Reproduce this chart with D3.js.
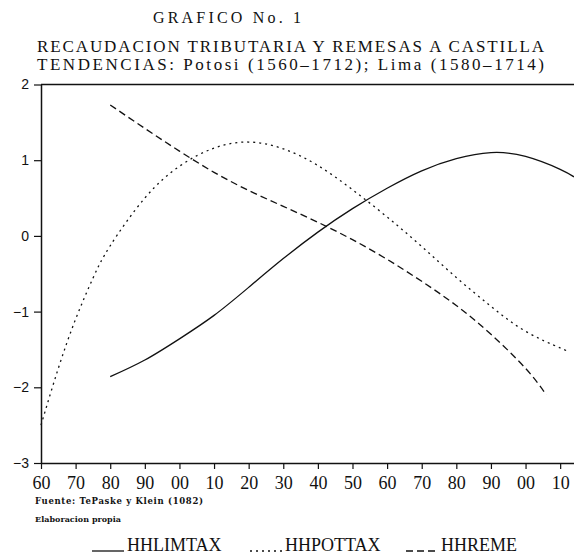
<!DOCTYPE html>
<html>
<head>
<meta charset="utf-8">
<script src="https://cdn.jsdelivr.net/npm/d3@7"></script>
<style>
  body { margin: 0; background: #fff; }
  svg { display: block; }
</style>
</head>
<body>
<svg width="574" height="558"></svg>
<script>
// Lima tax trend (solid)
var limYears  = [1580, 1590, 1600, 1610, 1620, 1630, 1640, 1650, 1660, 1670, 1680, 1690, 1700, 1710, 1714];
var limValues = [-1.86, -1.64, -1.36, -1.05, -0.68, -0.30, 0.05, 0.36, 0.63, 0.86, 1.02, 1.10, 1.05, 0.88, 0.78];

// Potosi tax trend (dotted)
var potYears  = [1560, 1565, 1570, 1575, 1580, 1590, 1600, 1610, 1620, 1630, 1640, 1650, 1660, 1670, 1680, 1690, 1700, 1710, 1712];
var potValues = [-2.50, -1.75, -1.10, -0.56, -0.13, 0.50, 0.92, 1.16, 1.24, 1.15, 0.93, 0.61, 0.25, -0.14, -0.55, -0.93, -1.26, -1.48, -1.52];

// remittances to Castile (dashed)
var remYears  = [1580, 1590, 1600, 1610, 1620, 1630, 1640, 1650, 1660, 1670, 1680, 1690, 1700, 1706];
var remValues = [1.73, 1.42, 1.12, 0.84, 0.60, 0.39, 0.18, -0.05, -0.31, -0.60, -0.92, -1.30, -1.75, -2.10];

var yTicks = [-3, -2, -1, 0, 1, 2];
var xTicks = [1560, 1570, 1580, 1590, 1600, 1610, 1620, 1630, 1640, 1650, 1660, 1670, 1680, 1690, 1700, 1710];

var svg = d3.select("svg");
var ink = "#111";

var x = d3.scaleLinear().domain([1560, 1714]).range([41, 574]);
var y = d3.scaleLinear().domain([-3, 2]).range([463, 84.5]);

// titles
svg.append("text").text("GRAFICO No. 1")
  .attr("x", 153).attr("y", 23)
  .attr("font-family", "Liberation Serif").attr("font-size", 16)
  .attr("textLength", 148).attr("lengthAdjust", "spacing")
  .attr("fill", ink);
svg.append("text").text("RECAUDACION TRIBUTARIA Y REMESAS A CASTILLA")
  .attr("x", 37).attr("y", 52)
  .attr("font-family", "Liberation Serif").attr("font-size", 17)
  .attr("textLength", 507).attr("lengthAdjust", "spacing")
  .attr("fill", ink);
svg.append("text").text("TENDENCIAS: Potosi (1560\u20131712); Lima (1580\u20131714)")
  .attr("x", 37).attr("y", 70)
  .attr("font-family", "Liberation Serif").attr("font-size", 17)
  .attr("textLength", 507).attr("lengthAdjust", "spacing")
  .attr("fill", ink);

// frame top
svg.append("line")
  .attr("x1", x(1560)).attr("x2", 574)
  .attr("y1", y(2)).attr("y2", y(2))
  .attr("stroke", ink).attr("stroke-width", 1.5);

// axes
var yAxis = svg.append("g")
  .attr("transform", "translate(" + x(1560) + ",0)")
  .call(d3.axisLeft(y).tickValues(yTicks).tickSize(7).tickSizeOuter(0)
    .tickFormat(function(d) { return d < 0 ? "\u2212" + Math.abs(d) : d; }));
yAxis.selectAll("text").attr("font-family", "Liberation Sans").attr("font-size", 14)
  .attr("fill", ink).attr("dx", "-2");

var xAxis = svg.append("g")
  .attr("transform", "translate(0," + y(-3) + ")")
  .call(d3.axisBottom(x).tickValues(xTicks).tickSize(6).tickSizeOuter(0)
    .tickFormat(function(d) { return ("0" + (d % 100)).slice(-2); }));
xAxis.selectAll("text").attr("font-family", "Liberation Serif").attr("font-size", 18)
  .attr("fill", ink).attr("dy", "0.95em");

svg.selectAll(".domain").attr("stroke", ink).attr("stroke-width", 1.5);
svg.selectAll(".tick line").attr("stroke", ink).attr("stroke-width", 1.2);

// curves
var line = d3.line()
  .x(function(d) { return x(d[0]); })
  .y(function(d) { return y(d[1]); })
  .curve(d3.curveNatural);

function series(years, values, dash) {
  svg.append("path")
    .datum(d3.zip(years, values))
    .attr("d", line)
    .attr("fill", "none")
    .attr("stroke", ink)
    .attr("stroke-width", 1.3)
    .attr("stroke-dasharray", dash);
}
series(limYears, limValues, null);
series(potYears, potValues, "2,4");
series(remYears, remValues, "7,4");

// source notes
svg.append("text").text("Fuente: TePaske y Klein (1082)")
  .attr("x", 35).attr("y", 504)
  .attr("font-family", "DejaVu Serif").attr("font-weight", "bold").attr("font-size", 8.5)
  .attr("textLength", 168).attr("lengthAdjust", "spacing")
  .attr("fill", ink);
svg.append("text").text("Elaboracion propia")
  .attr("x", 35).attr("y", 522)
  .attr("font-family", "DejaVu Serif").attr("font-weight", "bold").attr("font-size", 8)
  .attr("textLength", 86).attr("lengthAdjust", "spacing")
  .attr("fill", ink);

// legend
var legend = [
  {name: "HHLIMTAX", dash: null, x: 92},
  {name: "HHPOTTAX", dash: "2,4", x: 250},
  {name: "HHREME", dash: "7,4", x: 406}
];
var lg = svg.append("g").selectAll("g").data(legend).join("g")
  .attr("transform", function(d) { return "translate(" + d.x + ",551)"; });
lg.append("line")
  .attr("x1", 0).attr("x2", 32).attr("y1", 0).attr("y2", 0)
  .attr("stroke", ink).attr("stroke-width", 1.3)
  .attr("stroke-dasharray", function(d) { return d.dash; });
lg.append("text").text(function(d) { return d.name; })
  .attr("x", 35).attr("y", 0)
  .attr("font-family", "Liberation Serif").attr("font-size", 18)
  .attr("fill", ink);
</script>
</body>
</html>
